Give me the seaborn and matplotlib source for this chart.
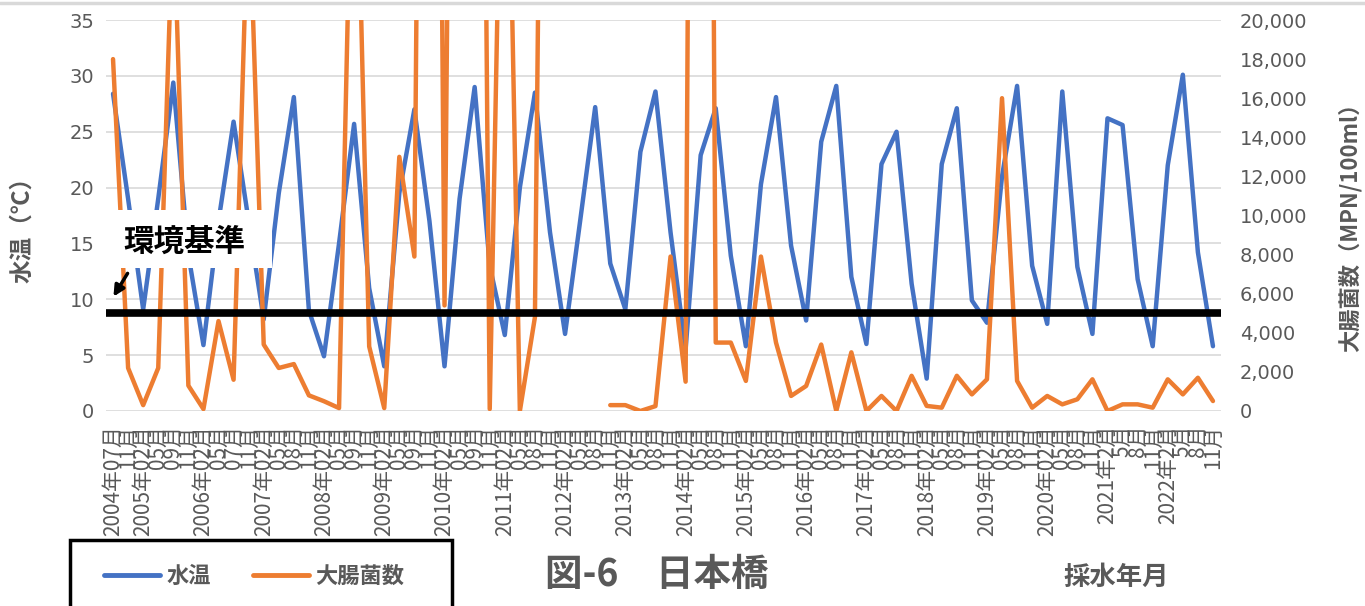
import numpy as np
import pandas as pd
import matplotlib
matplotlib.use("Agg")
import matplotlib.pyplot as plt
from matplotlib.patches import Rectangle, FancyArrowPatch
from matplotlib.lines import Line2D
from matplotlib.ticker import FuncFormatter
import seaborn as sns

# ---- data -------------------------------------------------------------
years = [2004] + list(range(2005, 2023))
months_by_year = {
    2004: ["07", "11"],
    2005: ["02", "05", "09", "11"],
    2006: ["02", "05", "07", "11"],
    2007: ["02", "05", "08", "11"],
    2008: ["02", "05", "09", "11"],
    2009: ["02", "05", "09", "11"],
    2010: ["02", "05", "09", "11"],
}
default_months = ["02", "05", "08", "11"]
short_months = ["2", "5", "8", "11"]

sample_labels = []
for y in years:
    if y >= 2021:
        ms = short_months
    else:
        ms = months_by_year.get(y, default_months)
    for k, m in enumerate(ms):
        sample_labels.append(f"{y}年{m}月" if k == 0 else f"{m}月")

water_temp = [
    28.4, 19.0, 9.1, 19.0, 29.4, 14.0, 5.9, 17.0, 25.9, 17.0,
    8.2, 19.5, 28.1, 9.0, 4.9, 15.0, 25.7, 11.0, 4.0, 19.5,
    27.0, 17.0, 4.0, 19.0, 29.0, 13.0, 6.8, 20.0, 28.5, 16.0,
    6.9, 17.0, 27.2, 13.2, 9.1, 23.2, 28.6, 16.0, 5.5, 22.9,
    27.1, 13.9, 5.8, 20.3, 28.1, 14.8, 8.1, 24.1, 29.1, 12.0,
    6.0, 22.1, 25.0, 11.4, 2.9, 22.1, 27.1, 9.9, 7.9, 21.0,
    29.1, 13.0, 7.8, 28.6, 12.9, 6.9, 26.2, 25.6, 11.8, 5.8,
    22.0, 30.1, 14.2, 5.8,
]

coliform = [
    18000, 2200, 300, 2200, 26000, 1300, 100, 4600, 1600, 27000,
    3400, 2200, 2400, 800, 500, 150, 35000, 3300, 150, 13000,
    7900, 100000, 5400, 90000, 90000, 100, 40000, 0, 4800, 80000,
    np.nan, np.nan, np.nan, 300, 300, 0, 250, 7900, 1500, 135000,
    3500, 3500, 1540, 7900, 3500, 770, 1280, 3400, 0, 3000,
    0, 770, 0, 1800, 260, 170, 1800, 850, 1620, 16000,
    1540, 170, 770, 340, 600, 1620, 0, 340, 340, 170,
    1620, 850, 1700, 510,
]

standard_value = 5000  # 環境基準

BLUE = "#4472C4"
ORANGE = "#ED7D31"
GREY = "#595959"
GRID = "#D9D9D9"

# ---- style -------------------------------------------------------------
sns.set_style("white")
plt.rcParams["font.family"] = ["Noto Sans CJK JP", "DejaVu Sans"]

W, H = 1365, 606
fig = plt.figure(figsize=(W / 100, H / 100), dpi=100)

def fx(px):
    return px / W

def fy(py):
    return 1 - py / H

ax = fig.add_axes([fx(105.5), fy(411), fx(1220.5) - fx(105.5), fy(20) - fy(411)])

n = len(water_temp)
df = pd.DataFrame({
    "pos": np.arange(n),
    "水温": water_temp,
    "大腸菌数": coliform,
})
# split the coliform series where measurements are missing so the line breaks
seg = np.cumsum(pd.isna(df["大腸菌数"]).astype(int).diff().fillna(0).abs())
df["seg"] = seg

sns.lineplot(data=df, x="pos", y="水温", ax=ax, color=BLUE, linewidth=3.2,
             estimator=None, sort=False, legend=False)
for ln in ax.lines:
    ln.set_solid_joinstyle("round")
    ln.set_solid_capstyle("round")

ax2 = ax.twinx()
sns.lineplot(data=df.dropna(subset=["大腸菌数"]), x="pos", y="大腸菌数", units="seg",
             ax=ax2, color=ORANGE, linewidth=3.2, estimator=None, sort=False,
             legend=False)
for ln in ax2.lines:
    ln.set_solid_joinstyle("round")
    ln.set_solid_capstyle("round")

ax2.axhline(standard_value, color="black", linewidth=5.5, zorder=10)

# ---- axes --------------------------------------------------------------
ax.set_xlim(-0.5, n - 0.5)
ax.set_ylim(0, 35)
ax2.set_ylim(0, 20000)
ax.set_yticks(range(0, 36, 5))
ax2.set_yticks(range(0, 20001, 2000))
ax2.yaxis.set_major_formatter(FuncFormatter(lambda v, p: f"{int(v):,}"))

ax.grid(axis="y", color=GRID, linewidth=1.2)
ax.grid(axis="x", visible=False)
ax2.grid(False)
for a in (ax, ax2):
    for s in a.spines.values():
        s.set_visible(False)
    a.set_xlabel("")
    a.set_ylabel("")

ax.set_xticks(range(n))
ax.set_xticklabels(sample_labels, rotation=90, fontsize=15, color=GREY,
                   va="top", ha="center")
ax.tick_params(axis="x", length=0, pad=10)
ax.tick_params(axis="y", length=0, pad=8, labelsize=14, labelcolor=GREY)
ax2.tick_params(axis="y", length=0, pad=14, labelsize=14, labelcolor=GREY)
for lab in ax.get_yticklabels() + ax2.get_yticklabels():
    lab.set_family("DejaVu Sans")

# ---- axis titles -----------------------------------------------------
fig.text(fx(22), fy(224), "水温（℃）", rotation=90, ha="center", va="center",
         fontsize=17, fontweight="bold", color=GREY)
fig.text(fx(1350), fy(222), "大腸菌数（MPN/100ml）", rotation=90, ha="center",
         va="center", fontsize=16, fontweight="bold", color=GREY)

# ---- environmental-standard callout ---------------------------------
fig.add_artist(Rectangle((fx(103), fy(268)), fx(272) - fx(103), fy(210) - fy(268),
                         transform=fig.transFigure, facecolor="white",
                         edgecolor="none", zorder=20))
fig.text(fx(184), fy(242), "環境基準", ha="center", va="center", fontsize=22,
         fontweight="bold", color="black", zorder=21)
fig.add_artist(FancyArrowPatch((fx(129), fy(271)), (fx(112), fy(299)),
                               transform=fig.transFigure, arrowstyle="-|>",
                               mutation_scale=16, linewidth=2.5, color="black",
                               zorder=21))

# ---- legend, caption ------------------------------------------------
fig.add_artist(Rectangle((fx(70), -0.05), fx(452) - fx(70), fy(540) + 0.05,
                         transform=fig.transFigure, facecolor="white",
                         edgecolor="black", linewidth=2.5, zorder=20))
handles = [Line2D([], [], color=BLUE, linewidth=3.5),
           Line2D([], [], color=ORANGE, linewidth=3.5)]
leg = fig.legend(handles, ["水温", "大腸菌数"], loc="center left",
                 bbox_to_anchor=(fx(104), fy(576)), ncol=2, frameon=False,
                 handlelength=2.5, handletextpad=0.3, columnspacing=1.9,
                 borderpad=0, borderaxespad=0,
                 prop={"size": 16, "weight": "bold"})
leg.set_zorder(22)
for t in leg.get_texts():
    t.set_color(GREY)

fig.text(fx(657), fy(574), "図-6　日本橋", ha="center", va="center",
         fontsize=27, fontweight="bold", color=GREY)
fig.text(fx(1116), fy(577), "採水年月", ha="center", va="center",
         fontsize=19, fontweight="bold", color=GREY)

fig.add_artist(Line2D([0, 1], [fy(3), fy(3)], transform=fig.transFigure,
                      color=GRID, linewidth=2.5))

fig.savefig("out.png", dpi=100, facecolor="white")
